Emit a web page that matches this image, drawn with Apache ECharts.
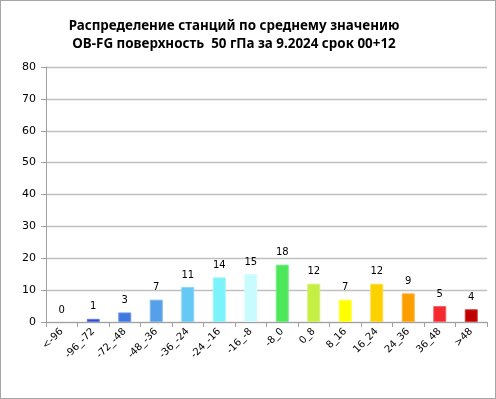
<!DOCTYPE html>
<html>
<head>
<meta charset="utf-8">
<script src="https://cdn.jsdelivr.net/npm/echarts@6/dist/echarts.min.js"></script>
<style>
  html, body { margin: 0; padding: 0; background: #fff; }
  #chart { width: 494px; height: 397px; border: 1px solid #a6a6a6; }
</style>
</head>
<body>
<div id="chart"></div>
<script>
var categories = ['<-96', '-96_-72', '-72_-48', '-48_-36', '-36_-24', '-24_-16', '-16_-8', '-8_0',
    '0_8', '8_16', '16_24', '24_36', '36_48', '>48'];
var counts = [0, 1, 3, 7, 11, 14, 15, 18, 12, 7, 12, 9, 5, 4];
var barColors = ['#2f4fd6', '#2f4fd6', '#3f78e0', '#55a0e8', '#66c9f5', '#7cf2fb', '#c8fbfd', '#4ce85a',
    '#c5ef42', '#ffff00', '#fcd100', '#fd9e00', '#f42a30', '#c00000'];
var yTicks = [0, 10, 20, 30, 40, 50, 60, 70, 80];

var myChart = echarts.init(document.getElementById('chart'));

var option = {
    animation: false,
    title: {
        text: 'Распределение станций по среднему значению\nOB-FG поверхность  50 гПа за 9.2024 срок 00+12',
        left: 228,
        top: 11,
        textAlign: 'center',
        textStyle: {
            fontFamily: 'Noto Sans',
            fontSize: 13.4,
            fontWeight: 'bold',
            color: '#000',
            lineHeight: 18
        }
    },
    grid: {
        left: 45,
        right: 8,
        top: 66,
        bottom: 76
    },
    xAxis: {
        type: 'category',
        data: categories,
        axisLine: { lineStyle: { color: '#a0a0a0' } },
        axisTick: { show: true, alignWithLabel: false, length: 5, lineStyle: { color: '#a0a0a0' } },
        axisLabel: {
            rotate: 45,
            interval: 0,
            margin: 8,
            fontFamily: 'DejaVu Sans',
            fontSize: 10,
            color: '#000'
        }
    },
    yAxis: {
        type: 'value',
        min: yTicks[0],
        max: yTicks[yTicks.length - 1],
        interval: 10,
        axisLine: { show: true, lineStyle: { color: '#a0a0a0' } },
        axisTick: { show: true, length: 5, lineStyle: { color: '#a0a0a0' } },
        axisLabel: {
            margin: 10,
            fontFamily: 'DejaVu Sans',
            fontSize: 11,
            color: '#000'
        },
        splitLine: { lineStyle: { color: '#c0c0c0', width: 1.3 } }
    },
    series: [{
        type: 'bar',
        data: counts.map(function (v, i) {
            return {
                value: v,
                itemStyle: {
                    color: barColors[i],
                    borderColor: echarts.color.lift(barColors[i], 0.25),
                    borderWidth: v > 0 ? 1 : 0
                }
            };
        }),
        barWidth: 13,
        label: {
            show: true,
            position: 'top',
            distance: 7,
            fontFamily: 'DejaVu Sans',
            fontSize: 10,
            color: '#000'
        }
    }]
};

myChart.setOption(option);
</script>
</body>
</html>
